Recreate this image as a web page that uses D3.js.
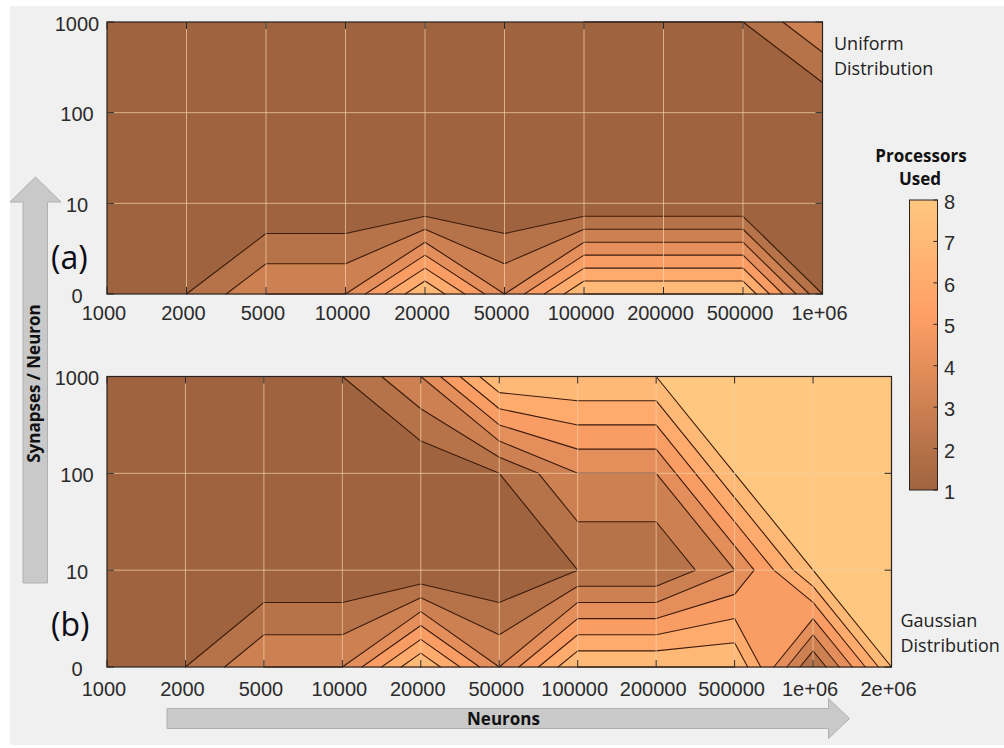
<!DOCTYPE html>
<html><head><meta charset="utf-8">
<script src="https://cdn.jsdelivr.net/npm/d3@7"></script>
<style>body{margin:0;background:#fff}svg{display:block}</style>
</head><body><svg id="c" width="1004" height="748"></svg>
<script>
// ---------------- data ----------------
const xLabelsA = ["1000","2000","5000","10000","20000","50000","100000","200000","500000","1e+06"];
const xLabelsB = ["1000","2000","5000","10000","20000","50000","100000","200000","500000","1e+06","2e+06"];
const yLabels = ["0","10","100","1000"];
// processors used; one array per synapses/neuron row, one value per neuron count
const uniformRow0    = [1,2,4,4,8,4,8,8,8,2];
const uniformRow10   = [1,1,1,1,1,1,1,1,1,1];
const uniformRow100  = [1,1,1,1,1,1,1,1,1,1];
const uniformRow1000 = [1,1,1,1,1,1,2,2,2,4];
const gaussRow0    = [1,2,4,4,8,4,8,8,8,2,8];
const gaussRow10   = [1,1,1,1,1,1,2,2,4,8,8];
const gaussRow100  = [1,1,1,1,1,2,4,4,8,8,8];
const gaussRow1000 = [1,1,1,2,4,8,8,8,8,8,8];
const levels = [1,2,3,4,5,6,7,8];
const cbTicks = [1,2,3,4,5,6,7,8];

// ---------------- drawing ----------------
const svg = d3.select("#c");
svg.append("rect").attr("width",1004).attr("height",748).attr("fill","#ffffff");
svg.append("rect").attr("x",10).attr("y",6).attr("width",994).attr("height",739).attr("fill","#f0f0f0");

const cmapPos = d3.scaleLinear().domain([1,8]).range([0.5,1]);
function copper(p){ return d3.rgb(255*Math.min(1,1.25*p), 255*0.7812*p, 255*0.4975*p); }
const color = v => copper(cmapPos(v)).formatRgb();

const TICKFONT = "'Liberation Sans', Arial, sans-serif";
const TXTFONT = "'Open Sans', 'Noto Sans', sans-serif";

function cellContours(grid, t){
  const polys = [], segs = [];
  const m = grid.length, n = grid[0].length;
  for (let j = 0; j < m-1; j++) for (let i = 0; i < n-1; i++) {
    const P = [[i,j+1],[i+1,j+1],[i+1,j],[i,j]];
    const V = P.map(p => grid[p[1]][p[0]]);
    const A = V.map(v => v >= t);
    const nA = A.filter(Boolean).length;
    if (nA === 0) continue;
    const cross = k => { const k2 = (k+1)%4; const f = (t - V[k])/(V[k2]-V[k]);
      return [P[k][0] + f*(P[k2][0]-P[k][0]), P[k][1] + f*(P[k2][1]-P[k][1])]; };
    const saddle = nA === 2 && A[0] === A[2];
    const center = d3.mean(V);
    if (nA === 4) { polys.push(P); continue; }
    if (saddle) {
      if (center >= t) {
        const poly = [];
        for (let k = 0; k < 4; k++) { if (A[k]) poly.push(P[k]); if (A[k] !== A[(k+1)%4]) poly.push(cross(k)); }
        polys.push(poly);
        for (let k = 0; k < 4; k++) if (!A[k]) segs.push([cross((k+3)%4), cross(k)]);
      } else {
        for (let k = 0; k < 4; k++) if (A[k]) { polys.push([cross((k+3)%4), P[k], cross(k)]); segs.push([cross((k+3)%4), cross(k)]); }
      }
    } else {
      const poly = [], cr = [];
      for (let k = 0; k < 4; k++) {
        if (A[k]) poly.push(P[k]);
        if (A[k] !== A[(k+1)%4]) { const c = cross(k); poly.push(c); cr.push(c); }
      }
      polys.push(poly);
      if (cr.length === 2) segs.push(cr);
    }
  }
  return {polys, segs};
}

function drawPanel(cfg){
  const grid = cfg.rows, n = grid[0].length, m = grid.length;
  const x = d3.scaleLinear().domain([0,n-1]).range([cfg.x0,cfg.x1]);
  const y = d3.scaleLinear().domain([0,m-1]).range([cfg.yBot,cfg.yTop]);
  const g = svg.append("g");
  const line = d3.line().x(p => x(p[0])).y(p => y(p[1]));
  g.append("rect").attr("x",cfg.x0).attr("y",cfg.yTop).attr("width",cfg.x1-cfg.x0).attr("height",cfg.yBot-cfg.yTop)
    .attr("fill",color(levels[0]));
  const res = levels.slice(1).map(t => ({t, ...cellContours(grid,t)}));
  g.selectAll("path.band").data(res).join("path").attr("class","band")
    .attr("d", d => d.polys.map(p => line(p) + "Z").join(""))
    .attr("fill", d => color(d.t)).attr("stroke", d => color(d.t)).attr("stroke-width",0.3);
  const segs = res.flatMap(d => d.segs);
  g.append("path").attr("d", segs.map(s => line(s)).join(""))
    .attr("fill","none").attr("stroke","#3b1b0b").attr("stroke-width",1.1).attr("stroke-linecap","round").attr("stroke-linejoin","round");
  // grid
  const gl = g.append("g").attr("stroke","#f7d2a8").attr("stroke-opacity",0.7).attr("stroke-width",1);
  d3.range(1,n-1).forEach(i => gl.append("line").attr("x1",x(i)).attr("x2",x(i)).attr("y1",cfg.yTop).attr("y2",cfg.yBot));
  d3.range(1,m-1).forEach(j => gl.append("line").attr("x1",cfg.x0).attr("x2",cfg.x1).attr("y1",y(j)).attr("y2",y(j)));
  // ticks
  const tk = g.append("g").attr("stroke","#2a2a2a").attr("stroke-width",1);
  d3.range(0,n).forEach(i => {
    tk.append("line").attr("x1",x(i)).attr("x2",x(i)).attr("y1",cfg.yBot).attr("y2",cfg.yBot-7);
    tk.append("line").attr("x1",x(i)).attr("x2",x(i)).attr("y1",cfg.yTop).attr("y2",cfg.yTop+7);
  });
  d3.range(0,m).forEach(j => {
    tk.append("line").attr("x1",cfg.x0).attr("x2",cfg.x0+7).attr("y1",y(j)).attr("y2",y(j));
    tk.append("line").attr("x1",cfg.x1).attr("x2",cfg.x1-7).attr("y1",y(j)).attr("y2",y(j));
  });
  g.append("rect").attr("x",cfg.x0).attr("y",cfg.yTop).attr("width",cfg.x1-cfg.x0).attr("height",cfg.yBot-cfg.yTop)
    .attr("fill","none").attr("stroke","#2a2420").attr("stroke-width",1.2);
  // labels
  g.selectAll("text.xl").data(cfg.xLabels).join("text").attr("class","xl")
    .attr("x",(d,i) => x(i) - 3).attr("y",cfg.xBase).attr("text-anchor","middle")
    .attr("font-family",TICKFONT).attr("font-size",20).attr("fill","#2b2b2b").text(d => d);
  g.selectAll("text.yl").data(yLabels).join("text").attr("class","yl")
    .attr("x",77).attr("y",(d,j) => y(j) + 8.7).attr("text-anchor","middle")
    .attr("font-family",TICKFONT).attr("font-size",20).attr("fill","#2b2b2b").text(d => d);
}

drawPanel({rows:[uniformRow0,uniformRow10,uniformRow100,uniformRow1000], xLabels:xLabelsA,
  x0:107, x1:822.5, yTop:22, yBot:294, xBase:320});
drawPanel({rows:[gaussRow0,gaussRow10,gaussRow100,gaussRow1000], xLabels:xLabelsB,
  x0:107, x1:891.5, yTop:376.5, yBot:667, xBase:696});

// arrows
svg.append("polygon").attr("points","23,583 23,202 10,202 35.5,177 61,202 47.5,202 47.5,583")
  .attr("fill","#c9c9c9").attr("stroke","#b0b0b0").attr("stroke-width",1);
svg.append("polygon").attr("points","167,708.5 828.5,708.5 828.5,698.5 849.5,718.5 828.5,738.5 828.5,728.5 167,728.5")
  .attr("fill","#c9c9c9").attr("stroke","#b0b0b0").attr("stroke-width",1);
svg.append("text").attr("transform","translate(40,383.5) rotate(-90)").attr("text-anchor","middle")
  .attr("font-family",TXTFONT).attr("font-weight","bold").attr("font-size",17).attr("fill","#111").text("Synapses / Neuron");
svg.append("text").attr("x",503.5).attr("y",725).attr("text-anchor","middle")
  .attr("font-family",TXTFONT).attr("font-weight","bold").attr("font-size",17).attr("fill","#111").text("Neurons");

// panel letters and annotations
svg.append("text").attr("x",51).attr("y",269).attr("font-family",TXTFONT).attr("font-size",32).attr("fill","#0c0c16").text("(a)");
svg.append("text").attr("x",51).attr("y",636).attr("font-family",TXTFONT).attr("font-size",32).attr("fill","#0c0c16").text("(b)");
[["Uniform",834,50],["Distribution",834,75],["Gaussian",900.5,627],["Distribution",900.5,652]].forEach(([s,tx,ty]) =>
  svg.append("text").attr("x",tx).attr("y",ty).attr("font-family",TXTFONT).attr("font-size",18).attr("fill","#222").text(s));

// colorbar
const cb = {x:909.5, w:28, top:200, bot:490};
const cy = d3.scaleLinear().domain([1,8]).range([cb.bot, cb.top]);
const defs = svg.append("defs");
const grad = defs.append("linearGradient").attr("id","cbg").attr("x1",0).attr("y1",1).attr("x2",0).attr("y2",0);
d3.range(0,65).forEach(k => { const v = 1 + 7*k/64; grad.append("stop").attr("offset",k/64).attr("stop-color",color(v)); });
svg.append("rect").attr("x",cb.x).attr("y",cb.top).attr("width",cb.w).attr("height",cb.bot-cb.top)
  .attr("fill","url(#cbg)").attr("stroke","#2a2420").attr("stroke-width",1);
cbTicks.forEach(v => {
  svg.append("line").attr("x1",cb.x+cb.w).attr("x2",cb.x+cb.w-4).attr("y1",cy(v)).attr("y2",cy(v)).attr("stroke","#2a2420");
  svg.append("text").attr("x",944).attr("y",cy(v)+9).attr("font-family",TICKFONT).attr("font-size",20).attr("fill","#2b2b2b").text(v);
});
svg.append("text").attr("x",921).attr("y",162).attr("text-anchor","middle").attr("font-family",TXTFONT)
  .attr("font-weight","bold").attr("font-size",17).attr("fill","#111").text("Processors");
svg.append("text").attr("x",920).attr("y",185).attr("text-anchor","middle").attr("font-family",TXTFONT)
  .attr("font-weight","bold").attr("font-size",17).attr("fill","#111").text("Used");
</script></body></html>
